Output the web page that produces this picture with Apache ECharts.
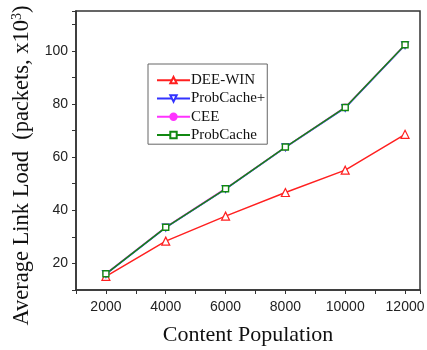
<!DOCTYPE html>
<html>
<head>
<meta charset="utf-8">
<script src="https://cdn.jsdelivr.net/npm/echarts@6/dist/echarts.min.js"></script>
<style>
  html, body { margin: 0; padding: 0; background: #fff; }
  #chart { width: 427px; height: 350px; }
</style>
</head>
<body>
<div id="chart"></div>
<script>
// Content population (x axis) and average link load per scheme (thousands of packets)
const population = [2000, 4000, 6000, 8000, 10000, 12000];
const deeWin = [15.1, 28.4, 37.8, 46.7, 55.1, 68.6];
const probCachePlus = [16.0, 33.5, 48.0, 63.7, 78.5, 102.1];
const cee = [16.2, 33.7, 48.2, 63.8, 78.8, 102.3];
const probCache = [16.1, 33.6, 48.1, 63.8, 78.7, 102.3];
const xTicks = [2000, 4000, 6000, 8000, 10000, 12000];
const yTicks = [20, 40, 60, 80, 100];

const pairs = ys => population.map((x, i) => [x, ys[i]]);

const serif = 'Liberation Serif';
const sans = 'Liberation Sans';
const axisColor = '#333';

function lineSeries(name, ys, color, symbol, opts) {
  return Object.assign({
    name: name,
    type: 'line',
    data: pairs(ys),
    symbol: symbol,
    symbolSize: 7,
    showAllSymbol: true,
    lineStyle: { color: color, width: 1.5 },
    itemStyle: { color: color, borderColor: color, borderWidth: 1.2 },
    emphasis: { disabled: true }
  }, opts || {});
}

const chart = echarts.init(document.getElementById('chart'), null, { renderer: 'canvas' });
chart.setOption({
  animation: false,
  backgroundColor: '#fff',
  grid: {
    left: 76, right: 7, top: 11, bottom: 60,
    outerBoundsMode: 'none',
    show: true, borderColor: axisColor, borderWidth: 1.5, backgroundColor: 'transparent'
  },
  legend: {
    left: 148, top: 64,
    orient: 'vertical',
    itemGap: 2,
    itemWidth: 33, itemHeight: 8,
    padding: [8, 2, 1, 8],
    borderColor: '#666', borderWidth: 1,
    backgroundColor: '#fff',
    textStyle: { fontFamily: serif, fontSize: 15, color: '#111', padding: [0, 0, 0, -4], lineHeight: 16.3 },
    data: ['DEE-WIN', 'ProbCache+', 'CEE', 'ProbCache']
  },
  xAxis: {
    type: 'value',
    min: 1000, max: 12500,
    interval: 1000,
    name: 'Content Population',
    nameLocation: 'middle',
    nameGap: 34,
    nameTextStyle: { fontFamily: serif, fontSize: 22, color: '#111' },
    axisLine: { show: true, onZero: false, lineStyle: { color: axisColor, width: 1.5 } },
    axisTick: { show: true, inside: false, length: 4, lineStyle: { color: axisColor } },
    splitLine: { show: false },
    axisLabel: {
      fontFamily: sans, fontSize: 14, color: '#222', margin: 10,
      formatter: v => (xTicks.indexOf(v) >= 0 ? String(v) : '')
    }
  },
  yAxis: {
    type: 'value',
    min: 10, max: 115,
    interval: 10,
    name: '{t|Average Link Load  (packets, x10}{s|3}{t|)}',
    nameLocation: 'middle',
    nameGap: 37,
    nameTextStyle: {
      padding: [0, 30, 0, 0],
      rich: {
        t: { fontFamily: serif, fontSize: 22.5, color: '#111' },
        s: { fontFamily: serif, fontSize: 14, color: '#111', verticalAlign: 'bottom', padding: [0, 0, 10, 0] }
      }
    },
    axisLine: { show: true, onZero: false, lineStyle: { color: axisColor, width: 1.5 } },
    axisTick: { show: true, inside: false, length: 4, lineStyle: { color: axisColor } },
    splitLine: { show: false },
    axisLabel: {
      fontFamily: sans, fontSize: 14, color: '#222', margin: 8,
      formatter: v => (yTicks.indexOf(v) >= 0 ? String(v) : '')
    }
  },
  series: [
    lineSeries('DEE-WIN', deeWin, '#ff2020', 'triangle', { symbolSize: 8, itemStyle: { color: '#fff', borderColor: '#ff2020', borderWidth: 1.2 } }),
    lineSeries('ProbCache+', probCachePlus, '#3333ff', 'triangle', { symbolRotate: 180, itemStyle: { color: '#fff', borderColor: '#3333ff', borderWidth: 1.2 } }),
    lineSeries('CEE', cee, '#ff33ff', 'circle', { symbolSize: 6 }),
    lineSeries('ProbCache', probCache, '#118811', 'rect', { symbolSize: 6, itemStyle: { color: '#fff', borderColor: '#118811', borderWidth: 1.4 } })
  ]
});
</script>
</body>
</html>
